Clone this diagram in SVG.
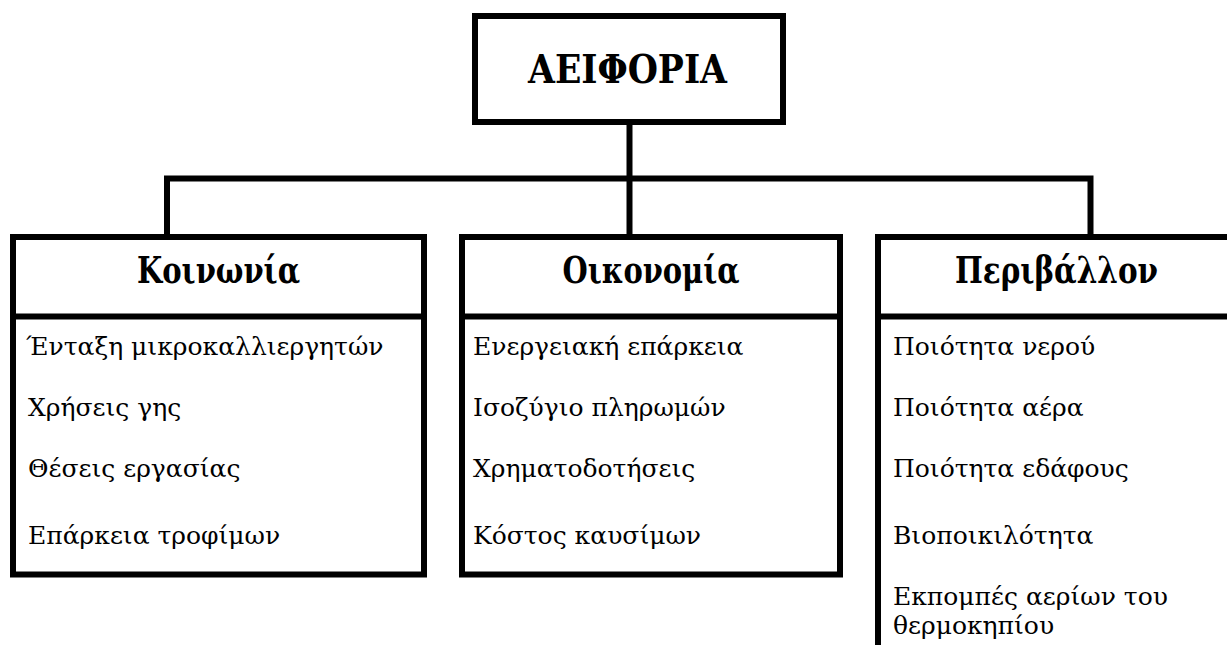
<svg xmlns="http://www.w3.org/2000/svg" width="1227" height="645" viewBox="0 0 1227 645">
<style>
.box{fill:#fff;stroke:#000;stroke-width:6}
.conn{fill:none;stroke:#000;stroke-width:6}
.div{stroke:#000;stroke-width:6}
.title{font-family:"DejaVu Serif","Liberation Serif",serif;font-weight:bold;font-stretch:condensed;fill:#000;text-anchor:middle}
.item{font-family:"DejaVu Serif","Liberation Serif",serif;font-size:25px;fill:#000}
</style>
<rect width="1227" height="645" fill="#fff"/>
<g id="connectors">
<path class="conn" d="M629.5,122 V237"/>
<path class="conn" d="M167,237 V178.5 H1090.5 V237"/>
</g>
<g id="aeiforia">
<rect class="box" x="475" y="16" width="308" height="106"/>
<text class="title" x="627.5" y="83" font-size="40" textLength="199" lengthAdjust="spacingAndGlyphs">ΑΕΙΦΟΡΙΑ</text>
</g>
<g id="koinonia">
<rect class="box" x="13" y="237" width="411" height="337.5"/>
<line class="div" x1="13" y1="316.5" x2="424" y2="316.5"/>
<text class="title" x="218.5" y="283" font-size="38" textLength="163" lengthAdjust="spacingAndGlyphs">Κοινωνία</text>
<text class="item" x="26" y="355">Ένταξη μικροκαλλιεργητών</text>
<text class="item" x="28" y="416">Χρήσεις γης</text>
<text class="item" x="28" y="477">Θέσεις εργασίας</text>
<text class="item" x="28" y="544">Επάρκεια τροφίμων</text>
</g>
<g id="oikonomia">
<rect class="box" x="462" y="237" width="378" height="337.5"/>
<line class="div" x1="462" y1="316.5" x2="840" y2="316.5"/>
<text class="title" x="651" y="283" font-size="38" textLength="177" lengthAdjust="spacingAndGlyphs">Οικονομία</text>
<text class="item" x="473" y="355">Ενεργειακή επάρκεια</text>
<text class="item" x="473" y="416">Ισοζύγιο πληρωμών</text>
<text class="item" x="473" y="477">Χρηματοδοτήσεις</text>
<text class="item" x="473" y="544">Κόστος καυσίμων</text>
</g>
<g id="perivallon">
<rect class="box" x="878" y="237" width="357" height="430"/>
<line class="div" x1="878" y1="316.5" x2="1235" y2="316.5"/>
<text class="title" x="1056.5" y="283" font-size="38" textLength="203" lengthAdjust="spacingAndGlyphs">Περιβάλλον</text>
<text class="item" x="893" y="355">Ποιότητα νερού</text>
<text class="item" x="893" y="416">Ποιότητα αέρα</text>
<text class="item" x="893" y="477">Ποιότητα εδάφους</text>
<text class="item" x="893" y="544">Βιοποικιλότητα</text>
<text class="item" x="893" y="605">Εκπομπές αερίων του</text>
<text class="item" x="893" y="634">θερμοκηπίου</text>
</g>
</svg>
